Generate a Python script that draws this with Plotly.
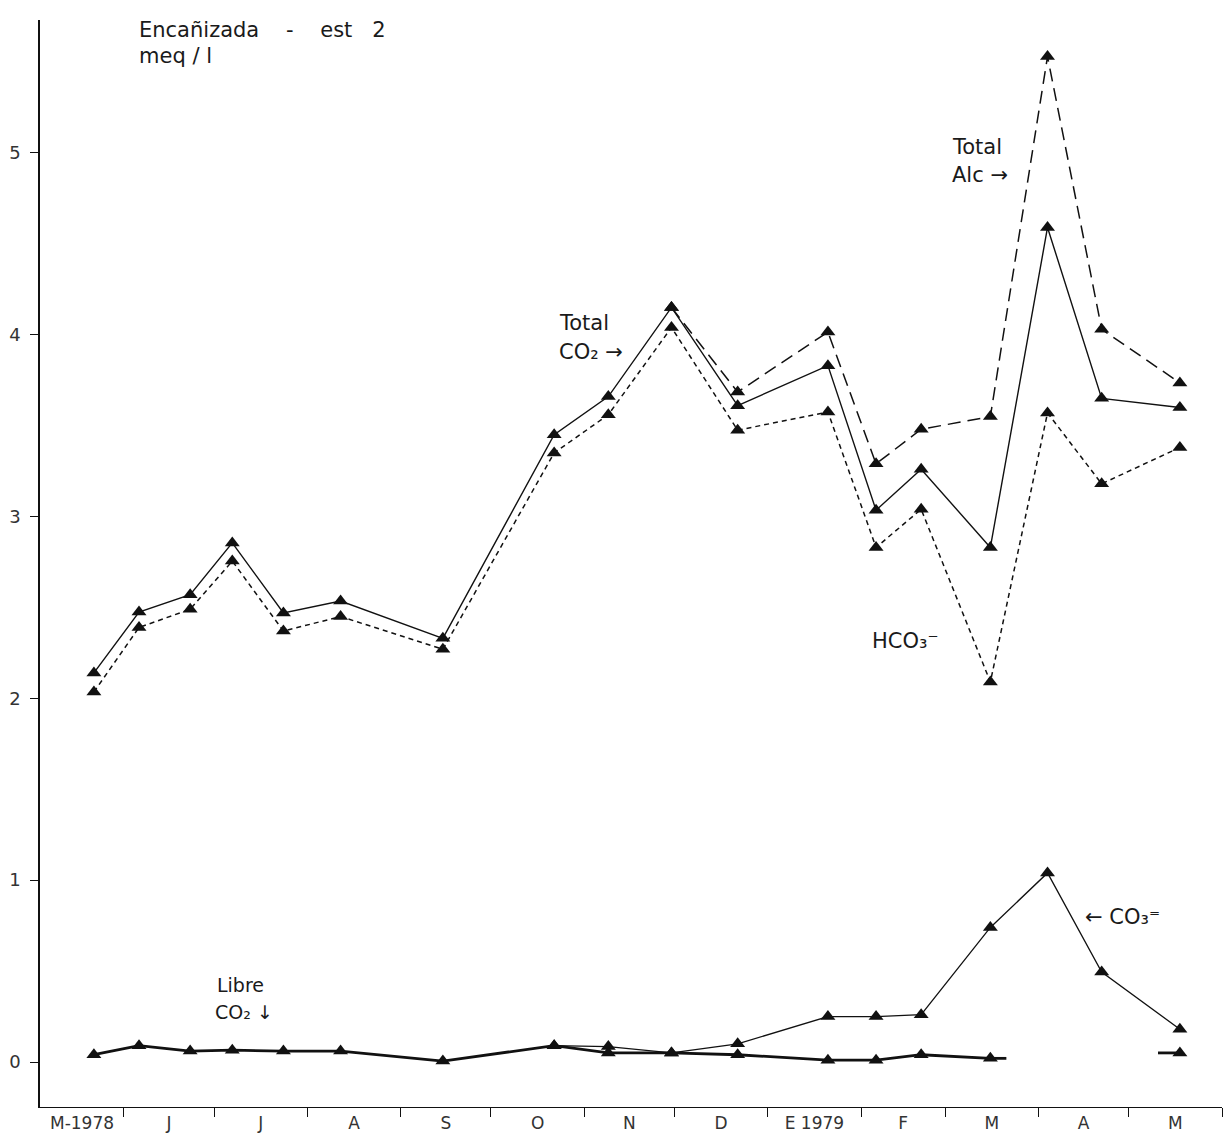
import pandas as pd
import plotly.graph_objects as go

# Sampling dates, Encañizada station 2 (May 1978 - May 1979)
dates = ["1978-05-22", "1978-06-06", "1978-06-23", "1978-07-07", "1978-07-24",
         "1978-08-12", "1978-09-15", "1978-10-22", "1978-11-09", "1978-11-30",
         "1978-12-22", "1979-01-21", "1979-02-06", "1979-02-21", "1979-03-16",
         "1979-04-04", "1979-04-22", "1979-05-18"]

# meq/l
total_co2 = [2.14, 2.475, 2.57, 2.855, 2.47, 2.535, 2.33, 3.45, 3.66, 4.15,
             3.61, 3.83, 3.035, 3.26, 2.83, 4.59, 3.65, 3.60]
hco3 = [2.035, 2.39, 2.49, 2.755, 2.37, 2.45, 2.27, 3.35, 3.56, 4.04,
        3.475, 3.575, 2.83, 3.04, 2.09, 3.57, 3.18, 3.38]
total_alc = [None, None, None, None, None, None, None, None, None, 4.15,
             3.685, 4.015, 3.29, 3.48, 3.55, 5.53, 4.03, 3.735]
co3 = [None, None, None, None, None, None, None, 0.09, 0.085, 0.05,
       0.10, 0.25, 0.25, 0.26, 0.74, 1.04, 0.495, 0.18]
libre_co2 = [0.04, 0.09, 0.06, 0.065, 0.06, 0.06, 0.005, 0.09, 0.05, 0.05,
             0.04, 0.01, 0.01, 0.04, 0.02, None, None, 0.05]

month_labels = ["M-1978", "J", "J", "A", "S", "O", "N", "D", "E 1979",
                "F", "M", "A", "M"]
y_ticks = [0, 1, 2, 3, 4, 5]

x_start = pd.Timestamp("1978-05-04 02:00")
x_end = pd.Timestamp("1979-06-01")
boundaries = list(pd.date_range("1978-06-01", "1979-06-01", freq="MS"))
edges = [x_start] + boundaries
mid_months = [a + (b - a) / 2 for a, b in zip(edges[:-1], edges[1:])]

ts = [pd.Timestamp(d) for d in dates]
INK = "#111111"
TRI = dict(symbol="triangle-up", size=13, color=INK)

fig = go.Figure()


def add_series(values, width, dash):
    fig.add_trace(go.Scatter(
        x=ts, y=values, mode="lines+markers",
        line=dict(color=INK, width=width, dash=dash),
        marker=TRI, connectgaps=False, showlegend=False, hoverinfo="skip"))


add_series(total_alc, 1.5, "13px,7px")
add_series(hco3, 1.5, "5px,4px")
add_series(total_co2, 1.4, "solid")
add_series(co3, 1.3, "solid")
add_series(libre_co2, 2.8, "solid")

# short line stubs either side of the missing April free-CO2 values
STUB = 0.28
i_last_before = 14
i_first_after = 17
stub_x = [ts[i_last_before],
          ts[i_last_before] + (ts[i_last_before + 1] - ts[i_last_before]) * STUB,
          None,
          ts[i_first_after] - (ts[i_first_after] - ts[i_first_after - 1]) * STUB,
          ts[i_first_after]]
stub_y = [libre_co2[i_last_before], libre_co2[i_last_before], None,
          libre_co2[i_first_after], libre_co2[i_first_after]]
fig.add_trace(go.Scatter(x=stub_x, y=stub_y, mode="lines",
                         line=dict(color=INK, width=2.8),
                         showlegend=False, hoverinfo="skip"))

FONT = "DejaVu Sans"
TXT = "#1a1a1a"
NB = "\u00a0"


def label(text, x, y, size=21, anchor="left"):
    fig.add_annotation(text=text, x=x, y=y, xref="paper", yref="paper",
                       xanchor=anchor, yanchor="middle", showarrow=False,
                       font=dict(family=FONT, size=size, color=TXT))


label("Encañizada" + NB * 4 + "-" + NB * 4 + "est" + NB * 3 + "2", 0.082, 0.991)
label("meq / l", 0.082, 0.967)

label("Total", 0.770, 0.883)
label("Alc" + NB + "→", 0.770, 0.857)

label("Total", 0.437, 0.721)
label("CO₂" + NB + "→", 0.437, 0.695)

label("HCO₃⁻", 0.702, 0.429)

label("←" + NB + "CO₃⁼", 0.882, 0.175)

label("Libre", 0.148, 0.112, size=19)
label("CO₂" + NB + "↓", 0.1464, 0.087, size=19)

fig.update_layout(
    width=1225, height=1139,
    margin=dict(l=40, r=3, t=20, b=32),
    paper_bgcolor="white", plot_bgcolor="white",
    font=dict(family=FONT, color=TXT),
    xaxis=dict(
        type="date", range=[x_start, x_end],
        tickmode="array", tickvals=mid_months, ticktext=month_labels,
        ticks="", showgrid=False, zeroline=False,
        showline=True, linecolor=INK, linewidth=1.4,
        tickfont=dict(family=FONT, size=17, color="#333333"),
        minor=dict(tickmode="array", tickvals=boundaries, ticks="outside",
                   ticklen=9, tickwidth=1.3, tickcolor=INK, showgrid=False),
    ),
    yaxis=dict(
        range=[-0.2475, 5.731],
        tickmode="array", tickvals=y_ticks,
        ticks="outside", ticklen=8, tickwidth=1.3, tickcolor=INK,
        ticklabelstandoff=6,
        showgrid=False, zeroline=False,
        showline=True, linecolor=INK, linewidth=1.6,
        tickfont=dict(family=FONT, size=18, color="#333333"),
    ),
)

fig.write_html("out.html")
